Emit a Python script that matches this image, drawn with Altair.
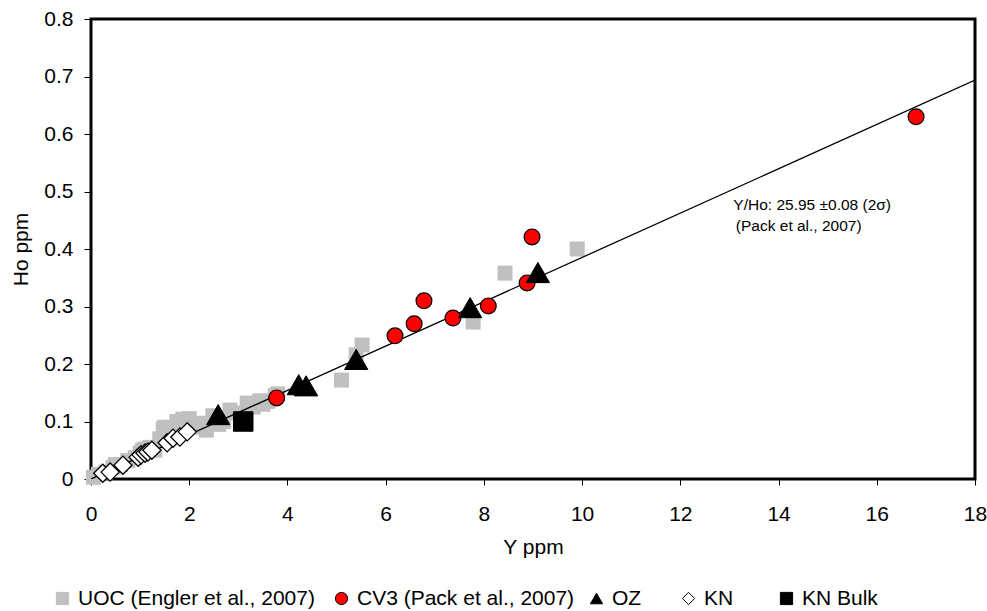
import altair as alt
import pandas as pd

# ---- data ----
uoc_y = [0.05, 0.15, 0.30, 0.45, 0.50, 0.60, 0.75, 0.90, 1.00, 1.05, 1.10, 1.20, 1.30, 1.40,
         1.47, 1.50, 1.55, 1.65, 1.75, 1.87, 1.95, 2.00, 2.05, 2.22, 2.35, 2.48, 2.60, 2.70,
         2.83, 2.97, 3.05, 3.18, 3.30, 3.44, 3.50, 3.60, 3.75, 3.80,
         5.10, 5.40, 5.52, 7.78, 8.43, 9.90]
uoc_ho = [0.003, 0.008, 0.012, 0.020, 0.025, 0.025, 0.032, 0.037, 0.045, 0.050, 0.052, 0.055,
          0.050, 0.070, 0.087, 0.090, 0.075, 0.090, 0.100, 0.104, 0.100, 0.105, 0.090, 0.097,
          0.085, 0.110, 0.095, 0.100, 0.120, 0.115, 0.110, 0.132, 0.125, 0.136, 0.130, 0.135,
          0.145, 0.148, 0.172, 0.216, 0.233, 0.273, 0.358, 0.400]

cv3_y = [3.78, 6.19, 6.58, 6.78, 7.37, 8.09, 8.88, 8.98, 16.80]
cv3_ho = [0.141, 0.249, 0.270, 0.310, 0.280, 0.301, 0.341, 0.421, 0.630]

oz_y = [2.59, 4.23, 4.38, 5.40, 7.72, 9.10]
oz_ho = [0.112, 0.164, 0.162, 0.208, 0.298, 0.359]

kn_y = [0.24, 0.39, 0.65, 0.96, 1.02, 1.10, 1.16, 1.24, 1.55, 1.67, 1.81, 1.96]
kn_ho = [0.010, 0.012, 0.024, 0.038, 0.042, 0.045, 0.047, 0.050, 0.063, 0.071, 0.073, 0.082]

bulk_y = [3.10]
bulk_ho = [0.100]

series_names = ["UOC (Engler et al., 2007)", "CV3 (Pack et al., 2007)", "OZ", "KN", "KN Bulk"]
fills = ["#c0c0c0", "#ff0000", "#000000", "#ffffff", "#000000"]
strokes = ["#c0c0c0", "#000000", "#000000", "#000000", "#000000"]
shapes = ["square", "circle", "triangle-up", "diamond", "square"]
sizes = [225, 250, 540, 330, 380]
stroke_w = [0, 1.2, 1, 1.3, 1]
legend_x = [-39, 240, 495, 587, 685]   # legend entry offsets from the plot's left edge

ratio = 25.95          # Y/Ho
x_end = 18
annot_text = ["Y/Ho: 25.95 \u00b10.08 (2\u03c3)", "(Pack et al., 2007)"]
annot_x = [13.08, 13.13]
annot_y = [0.468, 0.432]

# ---- tables ----
rows = []
for name, ys, hs in zip(series_names,
                        [uoc_y, cv3_y, oz_y, kn_y, bulk_y],
                        [uoc_ho, cv3_ho, oz_ho, kn_ho, bulk_ho]):
    for a, b in zip(ys, hs):
        rows.append({"Y": a, "Ho": b, "series": name})
pts = pd.DataFrame(rows)
line_df = pd.DataFrame({"Y": [0, x_end], "Ho": [0, x_end / ratio]})
annot_df = pd.DataFrame({"Y": annot_x, "Ho": annot_y, "t": annot_text})

FONT = "Liberation Sans"

xscale = alt.Scale(domain=[0, 18], nice=False, zero=False)
yscale = alt.Scale(domain=[0, 0.8], nice=False, zero=False)

xaxis = alt.Axis(values=list(range(0, 19, 2)), format="d", title="Y ppm",
                 grid=False, domain=False, tickSize=6, tickColor="black",
                 labelPadding=18, titlePadding=12, labelFontSize=21, titleFontSize=21,
                 labelColor="black", titleColor="black", labelFont=FONT, titleFont=FONT,
                 titleFontWeight="normal", labelFlush=False)
yaxis = alt.Axis(values=[i / 10 for i in range(0, 9)], format=".1~f", title="Ho ppm",
                 grid=False, domain=False, tickSize=7, tickColor="black",
                 labelPadding=11, titlePadding=12, labelFontSize=21, titleFontSize=21,
                 labelColor="black", titleColor="black", labelFont=FONT, titleFont=FONT,
                 titleFontWeight="normal", labelFlush=False)

base = alt.Chart(pts)


def point_layer(i):
    lg = alt.Legend(title=None, orient="none", legendX=legend_x[i], legendY=569,
                    direction="horizontal", labelFont=FONT, labelFontSize=21,
                    labelColor="black", labelOffset=5, symbolSize=150,
                    symbolStrokeWidth=1, padding=0, labelLimit=400)
    dom = [series_names[i]]
    return base.transform_filter(alt.datum.series == series_names[i]).mark_point(
        filled=True, opacity=1, size=sizes[i], strokeWidth=stroke_w[i]).encode(
        x=alt.X("Y:Q", scale=xscale, axis=xaxis),
        y=alt.Y("Ho:Q", scale=yscale, axis=yaxis),
        fill=alt.Fill("series:N", scale=alt.Scale(domain=dom, range=[fills[i]]), legend=lg),
        stroke=alt.Stroke("series:N", scale=alt.Scale(domain=dom, range=[strokes[i]]), legend=lg),
        shape=alt.Shape("series:N", scale=alt.Scale(domain=dom, range=[shapes[i]]), legend=lg))


line_layer = alt.Chart(line_df).mark_line(color="black", strokeWidth=1.3, clip=True).encode(
    x=alt.X("Y:Q", scale=xscale), y=alt.Y("Ho:Q", scale=yscale))

text_layer = alt.Chart(annot_df).mark_text(
    align="left", baseline="alphabetic", font=FONT, fontSize=15.5, color="black").encode(
    x=alt.X("Y:Q", scale=xscale), y=alt.Y("Ho:Q", scale=yscale), text="t:N")

chart = alt.layer(point_layer(0), line_layer, point_layer(1), point_layer(2),
                  point_layer(3), point_layer(4), text_layer).resolve_scale(
    fill="independent", stroke="independent", shape="independent"
).properties(
    width=884, height=460,
    autosize=alt.AutoSizeParams(type="none"),
    padding={"left": 91, "top": 19, "right": 12, "bottom": 132},
    background="white",
).configure(font=FONT).configure_view(stroke="black", strokeWidth=3)

chart.save("out.html", embed_options={"renderer": "svg", "actions": False})
